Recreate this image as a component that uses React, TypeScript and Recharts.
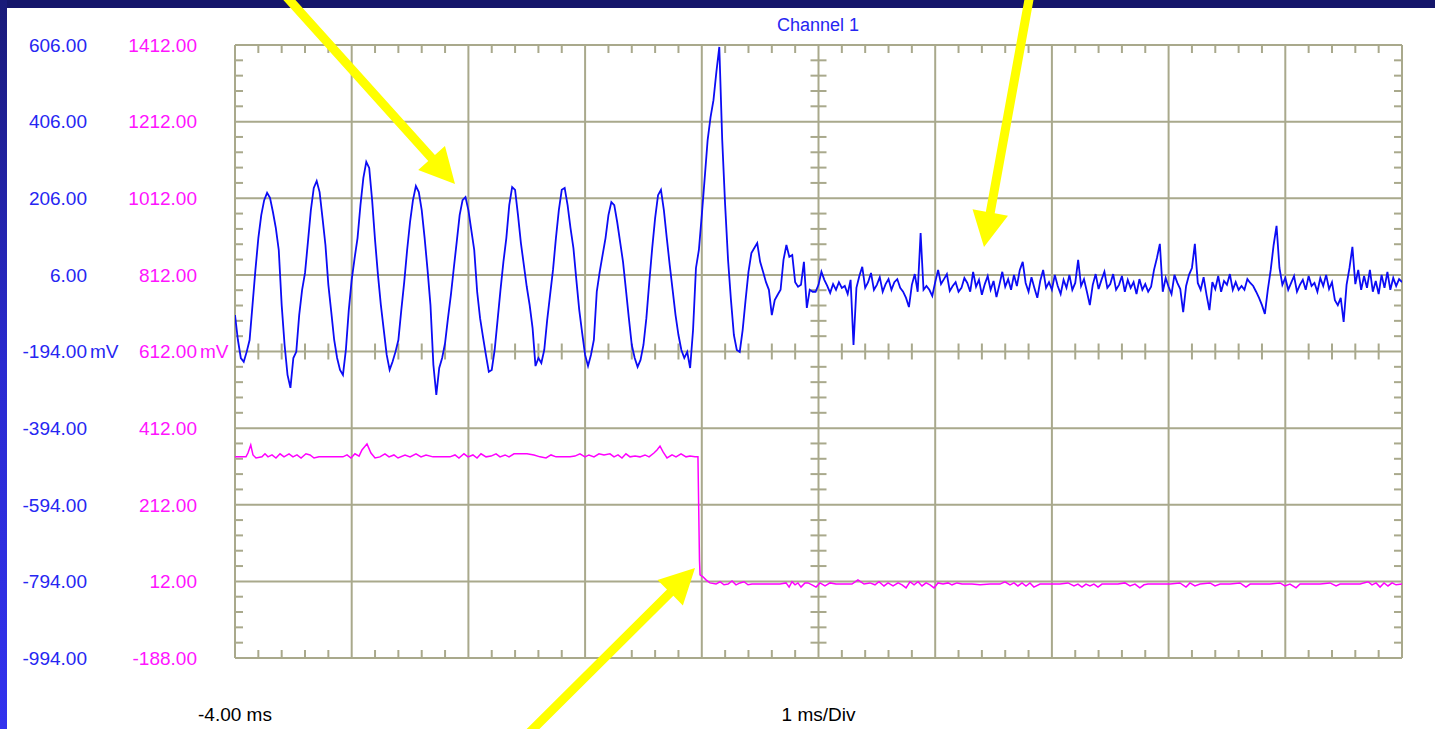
import React from "react";
import { LineChart, Line, XAxis, YAxis, ReferenceLine } from "recharts";

// channel A (blue), sampled every 0.025 ms from -4 ms
const blueStartMs = -4;
const blueStepMs = 0.025;
const blueValues = [
  -99, -164, -211, -221, -195, -164, -73, 19, 102, 162, 201, 220, 207, 170, 128, 71, -73, -177, -255, -289,
  -211, -195, -99, -33, 11, 92, 175, 233, 251, 222, 154, 84, -20, -91, -164, -211, -242, -255, -190, -86,
  -7, 50, 102, 188, 259, 301, 285, 201, 97, 6, -73, -138, -203, -242, -221, -195, -164, -86, -13, 71,
  144, 201, 238, 222, 175, 102, 19, -73, -229, -307, -237, -211, -172, -107, -46, 24, 92, 162, 201, 209,
  175, 123, 71, -38, -107, -156, -203, -247, -242, -190, -112, -33, 40, 102, 188, 235, 228, 162, 89, 32,
  -25, -73, -133, -232, -211, -224, -190, -112, -46, 19, 102, 175, 228, 233, 188, 128, 76, -7, -86, -146,
  -203, -232, -203, -164, -38, 14, 58, 102, 162, 196, 188, 144, 92, 40, -33, -107, -177, -211, -234, -216,
  -177, -107, -13, 76, 154, 214, 228, 175, 102, 32, -33, -99, -151, -190, -211, -195, -237, -138, 24, 71,
  162, 259, 358, 418, 462, 536, 601, 358, 188, 45, -60, -151, -190, -195, -138, -60, 14, 63, 76, 89,
  40, 14, -13, -33, -99, -60, -46, -33, 45, 84, 53, 58, -13, -25, -20, 40, -80, -33, -38, -38,
  -20, 14, -7, -23, -41, -18, -33, -13, -28, -23, -44, -7, -177, -28, 3, 27, -28, -13, 11, -33,
  -20, 0, -38, -18, -5, -33, -13, -5, -28, -38, -54, -78, -20, 8, -38, 115, -33, -23, -33, -49,
  -13, 19, -18, -5, 8, -36, -23, -13, -38, -28, -2, -15, -38, 14, -25, -7, -46, -18, 3, -33,
  -10, -52, -20, 14, -25, -5, -33, 6, -23, 19, 40, -15, -38, 0, -28, -54, -10, 19, -28, -13,
  -33, 6, -23, -44, -7, -28, 6, -33, -15, 45, -23, -5, -38, -73, -20, 8, -31, -7, 14, -28,
  -18, 8, -33, -20, 3, -38, -7, -28, -13, -44, -5, -33, -18, -38, -25, 19, 50, 87, -38, -2,
  -25, -44, 6, -15, -31, -91, -23, 6, 24, 87, -15, -33, 0, -46, -86, -13, -31, 3, -38, -10,
  -20, 8, -33, -13, -33, -23, -33, -5, -15, -23, -38, -54, -73, -96, -33, 19, 84, 134, 24, -20,
  -2, -33, -15, 3, -38, -20, -7, -33, 3, -23, -15, -38, -2, -23, 6, -31, -13, -60, -73, -54,
  -117, -20, 24, 79, -18, 19, -33, 3, -28, 19, -38, -10, -44, 6, -28, 14, -33, -2, -23, -5, -13,
];

// channel B (magenta): [time ms, value]
const magentaSamples: [number, number][] = [
  [-4.0, 337], [-3.949, 337], [-3.906, 337], [-3.889, 347], [-3.865, 368], [-3.846, 342], [-3.82, 334],
  [-3.769, 337], [-3.743, 345], [-3.717, 337], [-3.683, 342], [-3.649, 334], [-3.614, 345], [-3.58, 337],
  [-3.537, 345], [-3.503, 337], [-3.469, 342], [-3.434, 334], [-3.392, 345], [-3.357, 342], [-3.323, 334],
  [-3.28, 337], [-3.212, 337], [-3.143, 337], [-3.075, 337], [-3.04, 342], [-3.006, 334], [-2.972, 345],
  [-2.937, 339], [-2.912, 355], [-2.869, 371], [-2.835, 347], [-2.8, 334], [-2.758, 337], [-2.715, 345],
  [-2.68, 337], [-2.638, 342], [-2.603, 334], [-2.543, 342], [-2.5, 337], [-2.449, 345], [-2.406, 337],
  [-2.363, 342], [-2.303, 337], [-2.235, 337], [-2.158, 337], [-2.115, 342], [-2.081, 334], [-2.038, 345],
  [-2.003, 337], [-1.961, 342], [-1.926, 334], [-1.892, 345], [-1.849, 337], [-1.806, 339], [-1.763, 345],
  [-1.729, 337], [-1.686, 342], [-1.652, 337], [-1.609, 345], [-1.558, 345], [-1.498, 345], [-1.438, 342],
  [-1.386, 337], [-1.335, 334], [-1.292, 342], [-1.249, 337], [-1.198, 337], [-1.129, 337], [-1.087, 339],
  [-1.044, 345], [-1.001, 337], [-0.967, 342], [-0.924, 337], [-0.881, 345], [-0.838, 342], [-0.787, 345],
  [-0.752, 337], [-0.718, 342], [-0.684, 334], [-0.65, 345], [-0.615, 337], [-0.572, 339], [-0.53, 337],
  [-0.487, 342], [-0.452, 337], [-0.41, 347], [-0.384, 355], [-0.358, 365], [-0.332, 350], [-0.298, 334],
  [-0.255, 342], [-0.221, 337], [-0.178, 345], [-0.135, 337], [-0.101, 339], [-0.058, 337], [-0.033, 337],
  [-0.02, 68], [-0.015, 29], [0.01, 24], [0.036, 16], [0.07, 8],
  [0.122, 5], [0.156, 11], [0.19, 3], [0.225, 5], [0.259, 13], [0.293, 3], [0.327, 8], [0.362, 11],
  [0.396, 3], [0.43, 5], [0.499, 5], [0.584, 5], [0.67, 5], [0.722, 8], [0.748, -3], [0.773, 11],
  [0.799, 3], [0.824, 8], [0.85, -3], [0.884, 8], [0.91, 8], [0.944, 3], [0.979, -3], [1.013, 8],
  [1.056, 0], [1.099, 8], [1.15, 5], [1.236, 5], [1.287, 5], [1.338, 16], [1.39, 5], [1.441, 8],
  [1.484, 3], [1.518, 11], [1.561, 0], [1.596, 8], [1.639, 0], [1.682, 8], [1.716, 3], [1.75, -5],
  [1.784, 11], [1.819, 3], [1.853, 11], [1.887, 0], [1.922, 8], [1.956, 3], [1.99, -5], [2.024, 8],
  [2.067, 5], [2.11, 8], [2.144, 3], [2.187, 8], [2.23, 5], [2.264, 5], [2.315, 5], [2.384, 3],
  [2.47, 5], [2.555, 5], [2.598, 11], [2.641, 3], [2.675, 8], [2.709, 0], [2.744, 8], [2.778, 0],
  [2.812, 8], [2.846, -3], [2.898, 5], [2.984, 5], [3.069, 5], [3.138, 8], [3.189, 0], [3.223, 5],
  [3.258, -3], [3.292, 5], [3.326, 0], [3.36, 5], [3.395, -3], [3.429, 5], [3.48, 5], [3.566, 5],
  [3.626, 8], [3.669, 0], [3.712, 5], [3.754, -5], [3.789, 3], [3.823, 5], [3.926, 5], [4.011, 5],
  [4.097, 8], [4.149, -3], [4.183, 8], [4.226, 0], [4.269, 5], [4.355, 8], [4.398, 0], [4.441, 5],
  [4.526, 5], [4.612, 8], [4.663, -3], [4.698, 5], [4.783, 5], [4.869, 5], [4.955, 8], [4.997, 0],
  [5.04, 5], [5.092, -5], [5.126, 5], [5.212, 5], [5.298, 5], [5.383, 8], [5.435, 0], [5.469, 5],
  [5.555, 5], [5.641, 5], [5.709, 11], [5.743, 3], [5.778, 8], [5.812, -3], [5.846, 8], [5.88, 0],
  [5.915, 8], [5.949, 3], [6.0, 5],
];

const blueTicks = [-994, -794, -594, -394, -194, 6, 206, 406, 606];
const magentaTicks = [-188, 12, 212, 412, 612, 812, 1012, 1212, 1412];
const timeTicks = [-4, 1];
const timeTickText = ["-4.00 ms", "1 ms/Div"];
const majorTimes = [-4, -3, -2, -1, 0, 1, 2, 3, 4, 5, 6];
const unitTickIndex = 4;

const blueData = blueValues.map((v, i) => ({ t: +(blueStartMs + i * blueStepMs).toFixed(3), v }));
const magentaData = magentaSamples.map(([t, v]) => ({ t, v }));

// five minor divisions per major division
const minorTimes: number[] = [];
for (let d = 0; d < majorTimes.length - 1; d++) {
  for (let k = 1; k < 5; k++) minorTimes.push(+(majorTimes[d] + k * 0.2).toFixed(2));
}
const minorBlue: number[] = [];
for (let d = 0; d < blueTicks.length - 1; d++) {
  for (let k = 1; k < 5; k++) minorBlue.push(blueTicks[d] + k * 40);
}

const GRID = "#a9a98c";
const FONT = "'Liberation Sans', Arial, sans-serif";
const BLUE_TXT = "#2626f2";
const MAG_TXT = "#ff14ff";
const TICK = 8;
// axis ids: the magenta scale sits next to the plot, the blue one outside it
const MAG_AXIS = "a";
const BLUE_AXIS = "b";

function VMinor(p: any) {
  const x = p.x1;
  const top = Math.min(p.y1, p.y2);
  const bottom = Math.max(p.y1, p.y2);
  const mid = (top + bottom) / 2;
  return (
    <g stroke={GRID} strokeWidth={2}>
      <line x1={x} x2={x} y1={top} y2={top + TICK} />
      <line x1={x} x2={x} y1={bottom - TICK} y2={bottom} />
      <line x1={x} x2={x} y1={mid - TICK} y2={mid + TICK} />
    </g>
  );
}

function HMinor(p: any) {
  const y = p.y1;
  const left = Math.min(p.x1, p.x2);
  const right = Math.max(p.x1, p.x2);
  const mid = (left + right) / 2;
  return (
    <g stroke={GRID} strokeWidth={2}>
      <line x1={left} x2={left + TICK} y1={y} y2={y} />
      <line x1={right - TICK} x2={right} y1={y} y2={y} />
      <line x1={mid - TICK} x2={mid + TICK} y1={y} y2={y} />
    </g>
  );
}

function makeYTick(color: string) {
  return (p: any) => (
    <g>
      <text x={p.x} y={p.y} dy="0.36em" textAnchor="end" fill={color} fontSize={19} fontFamily={FONT}>
        {Number(p.payload.value).toFixed(2)}
      </text>
      {p.index === unitTickIndex && (
        <text x={p.x + 3} y={p.y} dy="0.36em" textAnchor="start" fill={color} fontSize={19} fontFamily={FONT}>
          mV
        </text>
      )}
    </g>
  );
}

function TimeTick(p: any) {
  const i = timeTicks.indexOf(p.payload.value);
  return (
    <text x={p.x} y={p.y} dy="0.71em" textAnchor="middle" fill="#000" fontSize={19} fontFamily={FONT}>
      {timeTickText[i]}
    </text>
  );
}

function arrowPath(x0: number, y0: number, x1: number, y1: number) {
  const shaft = 4.5, headLen = 35, headHalf = 18;
  const dx = x1 - x0, dy = y1 - y0;
  const L = Math.hypot(dx, dy);
  const ux = dx / L, uy = dy / L;
  const nx = -uy, ny = ux;
  const bx = x1 - ux * headLen, by = y1 - uy * headLen;
  const pts = [
    [x0 + nx * shaft, y0 + ny * shaft],
    [bx + nx * shaft, by + ny * shaft],
    [bx + nx * headHalf, by + ny * headHalf],
    [x1, y1],
    [bx - nx * headHalf, by - ny * headHalf],
    [bx - nx * shaft, by - ny * shaft],
    [x0 - nx * shaft, y0 - ny * shaft],
  ];
  return pts.map((q) => q.join(",")).join(" ");
}

export default function App() {
  return (
    <div style={{ position: "absolute", left: 0, top: 0, width: 1435, height: 729, background: "#fff", overflow: "hidden" }}>
      <div style={{ position: "absolute", left: 0, top: 0, width: 1435, height: 8, background: "#15166b" }} />
      <div
        style={{
          position: "absolute", left: 0, top: 0, width: 7, height: 729,
          background: "linear-gradient(#191a78, #2a2ad0 50%, #3232ee)",
        }}
      />
      <div
        style={{
          position: "absolute", left: 718, top: 14, width: 200, textAlign: "center",
          fontFamily: FONT, fontSize: 18, lineHeight: "22px", color: BLUE_TXT,
        }}
      >
        Channel 1
      </div>
      <div style={{ position: "absolute", left: 0, top: 0 }}>
        <LineChart width={1435} height={729} margin={{ top: 45, right: 33, bottom: 11, left: 0 }}>
          <XAxis
            type="number"
            dataKey="t"
            domain={[-4, 6]}
            allowDataOverflow
            ticks={timeTicks}
            interval={0}
            height={60}
            tickSize={0}
            tickMargin={50}
            axisLine={false}
            tickLine={false}
            tick={<TimeTick />}
          />
          <YAxis
            yAxisId={MAG_AXIS}
            type="number"
            domain={[-188, 1412]}
            allowDataOverflow
            ticks={magentaTicks}
            interval={0}
            width={110}
            tickSize={0}
            tickMargin={38}
            axisLine={false}
            tickLine={false}
            tick={makeYTick(MAG_TXT)}
          />
          <YAxis
            yAxisId={BLUE_AXIS}
            type="number"
            domain={[-994, 606]}
            allowDataOverflow
            ticks={blueTicks}
            interval={0}
            width={125}
            tickSize={0}
            tickMargin={38}
            axisLine={false}
            tickLine={false}
            tick={makeYTick(BLUE_TXT)}
          />
          {minorTimes.map((t) => (
            <ReferenceLine key={"vm" + t} x={t} yAxisId={BLUE_AXIS} stroke={GRID} shape={VMinor} />
          ))}
          {minorBlue.map((v) => (
            <ReferenceLine key={"hm" + v} y={v} yAxisId={BLUE_AXIS} stroke={GRID} shape={HMinor} />
          ))}
          {majorTimes.map((t) => (
            <ReferenceLine key={"vx" + t} x={t} yAxisId={BLUE_AXIS} stroke={GRID} strokeWidth={2} />
          ))}
          {blueTicks.map((v) => (
            <ReferenceLine key={"hy" + v} y={v} yAxisId={BLUE_AXIS} stroke={GRID} strokeWidth={2} />
          ))}
          <Line
            data={magentaData}
            yAxisId={MAG_AXIS}
            dataKey="v"
            type="linear"
            stroke="#ff00ff"
            strokeWidth={1.5}
            dot={false}
            isAnimationActive={false}
          />
          <Line
            data={blueData}
            yAxisId={BLUE_AXIS}
            dataKey="v"
            type="linear"
            stroke="#0c0cf5"
            strokeWidth={1.8}
            dot={false}
            isAnimationActive={false}
          />
        </LineChart>
      </div>
      <svg width={1435} height={729} style={{ position: "absolute", left: 0, top: 0, pointerEvents: "none" }}>
        <polygon points={arrowPath(284, -6, 455, 184)} fill="#ffff00" />
        <polygon points={arrowPath(1030, -6, 984, 247)} fill="#ffff00" />
        <polygon points={arrowPath(527, 735, 695, 568)} fill="#ffff00" />
      </svg>
    </div>
  );
}
